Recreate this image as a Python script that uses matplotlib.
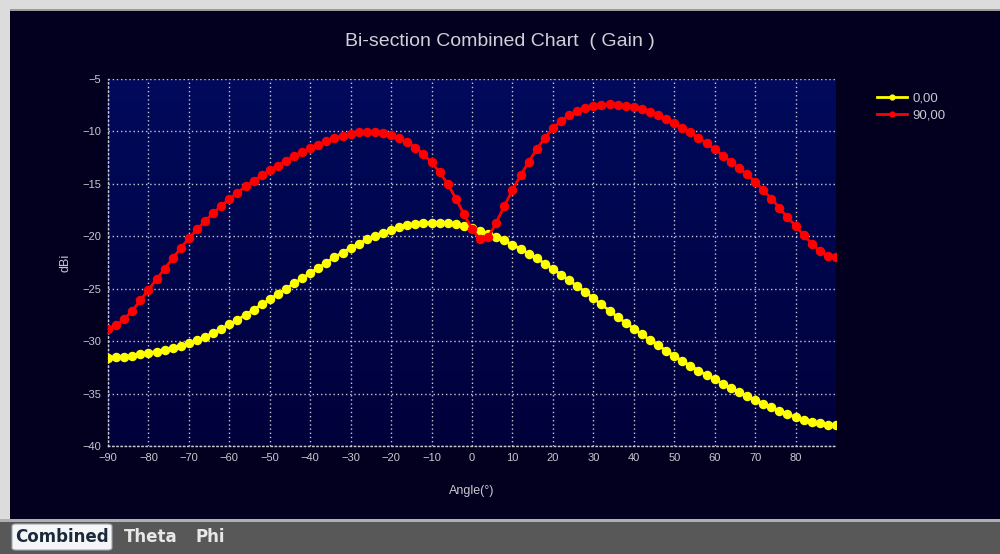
import numpy as np
import matplotlib
matplotlib.use("Agg")
import matplotlib.pyplot as plt
from matplotlib.patches import Rectangle, FancyBboxPatch
from matplotlib.colors import LinearSegmentedColormap

# angle in degrees, 2 degree steps
angles = list(range(-90, 91, 2))

gain_0 = [
    -31.6, -31.55, -31.5, -31.4, -31.25, -31.1, -31.0, -30.85, -30.65, -30.45,
    -30.2, -29.9, -29.6, -29.2, -28.8, -28.4, -27.95, -27.5, -27.0, -26.5,
    -26.0, -25.5, -25.0, -24.5, -24.0, -23.5, -23.0, -22.5, -22.0, -21.55,
    -21.1, -20.7, -20.3, -19.95, -19.65, -19.4, -19.15, -18.95, -18.8, -18.7,
    -18.7, -18.7, -18.75, -18.85, -19.0, -19.2, -19.45, -19.75, -20.05, -20.4,
    -20.8, -21.2, -21.65, -22.1, -22.6, -23.1, -23.65, -24.2, -24.75, -25.3,
    -25.9, -26.5, -27.1, -27.7, -28.25, -28.8, -29.35, -29.9, -30.4, -30.9,
    -31.4, -31.9, -32.35, -32.8, -33.25, -33.65, -34.05, -34.45, -34.85, -35.25,
    -35.6, -35.95, -36.3, -36.65, -36.95, -37.25, -37.5, -37.7, -37.85, -37.95,
    -38.0,
]

gain_90 = [
    -28.8, -28.5, -27.9, -27.1, -26.1, -25.1, -24.1, -23.1, -22.1, -21.1,
    -20.2, -19.35, -18.55, -17.8, -17.1, -16.45, -15.85, -15.25, -14.7, -14.2,
    -13.7, -13.25, -12.8, -12.35, -11.95, -11.6, -11.25, -10.95, -10.65, -10.4,
    -10.25, -10.1, -10.05, -10.05, -10.15, -10.35, -10.65, -11.05, -11.55, -12.2,
    -12.95, -13.9, -15.0, -16.4, -17.9, -19.3, -20.3, -20.1, -18.7, -17.1,
    -15.6, -14.2, -12.9, -11.7, -10.6, -9.7, -9.0, -8.45, -8.05, -7.75,
    -7.55, -7.45, -7.4, -7.45, -7.55, -7.7, -7.9, -8.15, -8.45, -8.8,
    -9.2, -9.65, -10.1, -10.6, -11.15, -11.7, -12.3, -12.9, -13.5, -14.1,
    -14.8, -15.6, -16.4, -17.3, -18.2, -19.0, -19.9, -20.7, -21.4, -21.85,
    -22.0,
]

series_names = ["0,00", "90,00"]
x_ticks = list(range(-90, 81, 10))
y_ticks = list(range(-40, -4, 5))

bg = "#03001f"
txt = "#c8c8d0"
font = "Liberation Sans"

fig = plt.figure(figsize=(10, 5.54), dpi=100)
fig.patch.set_facecolor(bg)

# window frame: light border top/left, grey tab strip at bottom
fig.patches.append(Rectangle((0, 1 - 9 / 554), 1, 9 / 554, transform=fig.transFigure,
                             facecolor="#dcdcdc", edgecolor="none", zorder=0))
fig.patches.append(Rectangle((0, 1 - 11 / 554), 1, 2 / 554, transform=fig.transFigure,
                             facecolor="#9a9a9a", edgecolor="none", zorder=0))
fig.patches.append(Rectangle((0, 0), 10 / 1000, 1, transform=fig.transFigure,
                             facecolor="#dcdcdc", edgecolor="none", zorder=0))
fig.patches.append(Rectangle((0, 0), 1, 32 / 554, transform=fig.transFigure,
                             facecolor="#585858", edgecolor="none", zorder=1))
fig.patches.append(Rectangle((0, 32 / 554), 1, 3 / 554, transform=fig.transFigure,
                             facecolor="#b0b0b0", edgecolor="none", zorder=1))
fig.patches.append(FancyBboxPatch((12 / 1000, 4 / 554), 100 / 1000, 26 / 554,
                                  boxstyle="round,pad=0,rounding_size=0.004",
                                  transform=fig.transFigure, facecolor="#f4f6f8",
                                  edgecolor="#a0a8b0", lw=0.8, zorder=2))
fig.text(62 / 1000, 17 / 554, "Combined", color="#1a2a3a", fontsize=12,
         ha="center", va="center", family="DejaVu Sans", weight="bold", zorder=3)
fig.text(151 / 1000, 17 / 554, "Theta", color="#e8e8e8", fontsize=12,
         ha="center", va="center", family="DejaVu Sans", weight="bold", zorder=3)
fig.text(210 / 1000, 17 / 554, "Phi", color="#e8e8e8", fontsize=12,
         ha="center", va="center", family="DejaVu Sans", weight="bold", zorder=3)

ax = fig.add_axes([108 / 1000, 1 - 446 / 554, 728 / 1000, 367 / 554])
ax.set_facecolor("#000040")

# gradient inside plot area
grad = np.linspace(1, 0, 256).reshape(-1, 1)
cmap = LinearSegmentedColormap.from_list("navy", ["#00003a", "#000a5c"])
ax.imshow(grad, cmap=cmap, aspect="auto", extent=[0, 1, 0, 1],
          transform=ax.transAxes, zorder=0)

ax.plot(angles, gain_0, color="#ffff00", lw=2, marker="o", ms=5.8,
        mec="#ffff00", label=series_names[0], zorder=3)
ax.plot(angles, gain_90, color="#ff0000", lw=2, marker="o", ms=5.8,
        mec="#ff0000", label=series_names[1], zorder=4)

ax.set_xlim(-90, 90)
ax.set_ylim(-40, -5)
ax.set_xticks(x_ticks)
ax.set_yticks(y_ticks)
ax.grid(True, color="#c8c8d0", linestyle=(0, (1, 2)), lw=1)
ax.set_axisbelow(False)
for s in ax.spines.values():
    s.set_color("#c8c8d0")
    s.set_linestyle((0, (1, 2)))
    s.set_linewidth(1)
ax.spines["top"].set_visible(False)
ax.spines["right"].set_visible(False)
ax.tick_params(colors=txt, labelsize=8, length=0, pad=5)
for lab in ax.get_xticklabels() + ax.get_yticklabels():
    lab.set_family(font)

ax.set_xlabel("Angle(°)", color=txt, fontsize=9, labelpad=16, family=font)
ax.set_ylabel("dBi", color=txt, fontsize=9, labelpad=8, family=font)

fig.text(0.5, 1 - 41 / 554, "Bi-section Combined Chart  ( Gain )", color="#d0d0d8",
         fontsize=14, ha="center", va="center", family=font)

leg = ax.legend(loc="upper left", bbox_to_anchor=(1.04, 0.995), frameon=False,
                prop={"family": font, "size": 9.5}, labelcolor=txt,
                handlelength=2.3, markerscale=0.6,
                handletextpad=0.4, labelspacing=0.35)

fig.savefig("out.png", dpi=100, facecolor=fig.get_facecolor())
